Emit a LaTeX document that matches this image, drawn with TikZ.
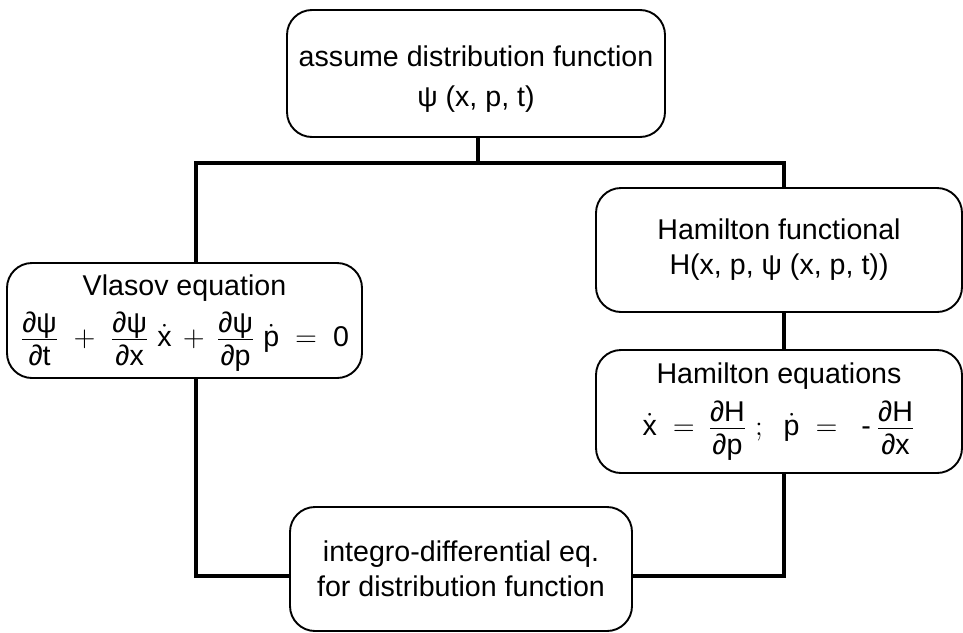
\documentclass[tikz,border=0pt]{standalone}
\usepackage{fontspec}
\setmainfont{Liberation Sans}
\newcommand{\pfr}[2]{\frac{\mbox{#1\rule[-2.5pt]{0pt}{2.5pt}}}{\mbox{\rule{0pt}{12.5pt}#2}}}
\begin{document}
\begin{tikzpicture}[x=0.5pt,y=-0.5pt,
  box/.style={draw, line width=0.95pt, rounded corners=12.5pt, align=center, inner sep=0pt,
    font=\fontsize{14.3}{16}\selectfont},
  conn/.style={line width=1.6pt}]
\useasboundingbox (0,0) rectangle (963,632);
\node[box, minimum width=189pt, minimum height=63.5pt] (top) at (476,73.5)
  {\rule{0pt}{16pt}assume distribution function\\[4pt] ψ (x, p, t)};
\node[box, minimum width=177.5pt, minimum height=57.5pt] (vl) at (184.5,320.5)
  {\rule{0pt}{13pt}Vlasov equation\\[4pt]
   \(\textstyle \pfr{∂ψ}{∂t} \;+\; \pfr{∂ψ}{∂x}\;\dot{\mbox{x}}
   \,+\, \pfr{∂ψ}{∂p}\;\dot{\mbox{p}} \;=\; \mbox{0}\)};
\node[box, minimum width=183pt, minimum height=62pt] (hf) at (779,250)
  {Hamilton functional\\[1.5pt] H(x, p, ψ (x, p, t))};
\node[box, minimum width=183pt, minimum height=61.5pt] (he) at (779,411.5)
  {Hamilton equations\\[5pt]
   \(\textstyle \dot{\mbox{x}} \;=\, \pfr{∂H}{∂p}\ ;\ \ \dot{\mbox{p}} \;=\ \ \mbox{-}\,\pfr{∂H}{∂x}\)};
\node[box, minimum width=171pt, minimum height=62pt] (bt) at (461,569)
  {integro-differential eq.\\[1.5pt] for distribution function};
\coordinate (jt) at (478,163);
\coordinate (jl) at (196,163);
\coordinate (jr) at (784,163);
\coordinate (bl) at (196,576);
\coordinate (br) at (784,576);
\draw[conn] (top.south -| jt) -- (jt);
\draw[conn] (vl.north -| jl) -- (jl) -- (jr) -- (hf.north -| jr);
\draw[conn] (hf.south -| jr) -- (he.north -| jr);
\draw[conn] (vl.south -| bl) -- (bl) -- (bl -| bt.west);
\draw[conn] (he.south -| br) -- (br) -- (br -| bt.east);
\end{tikzpicture}
\end{document}
